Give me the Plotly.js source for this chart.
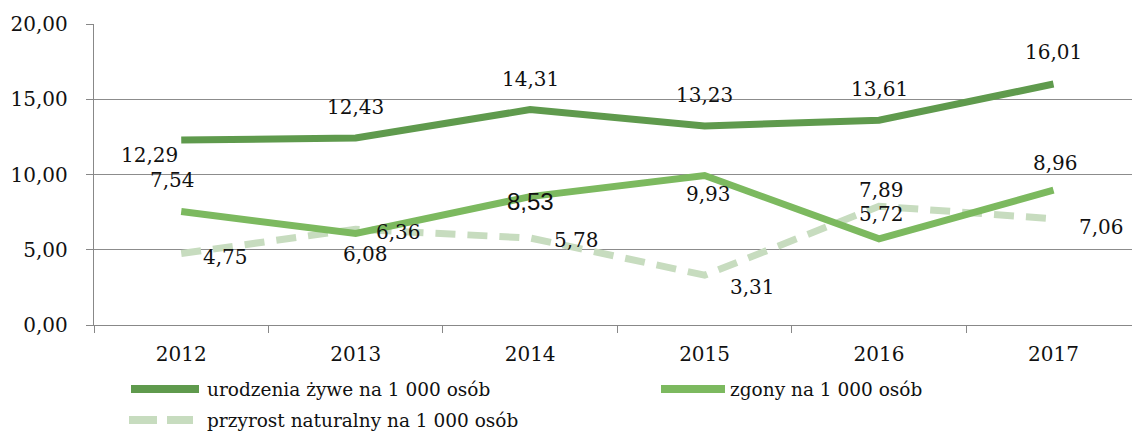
<!DOCTYPE html>
<html>
<head>
<meta charset="utf-8">
<script src="https://cdn.plot.ly/plotly-3.0.1.min.js"></script>
<style>html,body{margin:0;padding:0;background:#fff;}#chart{width:1132px;height:434px;}</style>
</head>
<body>
<div id="chart"></div>
<script>
// ---- data ----
const years = ["2012", "2013", "2014", "2015", "2016", "2017"];
const births = [12.29, 12.43, 14.31, 13.23, 13.61, 16.01];
const deaths = [7.54, 6.08, 8.53, 9.93, 5.72, 8.96];
const increase = [4.75, 6.36, 5.78, 3.31, 7.89, 7.06];
const seriesNames = ["urodzenia żywe na 1 000 osób", "zgony na 1 000 osób", "przyrost naturalny na 1 000 osób"];
const yTicks = [0, 5, 10, 15, 20];

// ---- style ----
const colBirths = "#5f9a4d";
const colDeaths = "#7cb95f";
const colIncrease = "#c7dcbf";
const txtCol = "#111111";
const serif = "DejaVu Serif, serif";
const fmt = v => v.toFixed(2).replace(".", ",");

// label offsets (px) per point: [xshift, yshift]
const offBirths = [[-32, -15], [0, 31], [0, 31], [0, 31], [0, 31], [0, 32]];
const offDeaths = [[-9, 32], [10, -20], [0, -5], [4, -18], [2, 25], [2, 27]];
const offIncrease = [[44, -3], [43, -3], [46, -2], [48, -12], [2, 16], [48, -8]];

const traces = [
  {x: years, y: increase, name: seriesNames[2], mode: "lines", line: {color: colIncrease, width: 7, dash: "20px,12px"}, hoverinfo: "skip"},
  {x: years, y: deaths, name: seriesNames[1], mode: "lines", line: {color: colDeaths, width: 7}, hoverinfo: "skip"},
  {x: years, y: births, name: seriesNames[0], mode: "lines", line: {color: colBirths, width: 7}, hoverinfo: "skip"}
];

const annotations = [];
function addLabels(vals, offs, special) {
  vals.forEach((v, i) => {
    const sp = special && special[i];
    annotations.push({
      x: i, y: v, xref: "x", yref: "y", text: fmt(v), showarrow: false,
      xshift: offs[i][0], yshift: offs[i][1],
      font: sp ? {family: "Liberation Sans, Arial, sans-serif", size: 24, color: txtCol} : {family: serif, size: 20, color: txtCol}
    });
  });
}
addLabels(births, offBirths);
addLabels(deaths, offDeaths, {2: true});
addLabels(increase, offIncrease);

// manual legend (pixel -> paper helpers)
const L = 94, R = 0, T = 24, B = 109, W = 1132, H = 434;
const pw = W - L - R, ph = H - T - B;
const px = p => (p - L) / pw;
const py = p => (H - B - p) / ph;
const shapes = [
  {type: "line", xref: "paper", yref: "paper", x0: px(131), x1: px(199), y0: py(389), y1: py(389), line: {color: colBirths, width: 8}},
  {type: "line", xref: "paper", yref: "paper", x0: px(661), x1: px(725), y0: py(389), y1: py(389), line: {color: colDeaths, width: 8}},
  {type: "line", xref: "paper", yref: "paper", x0: px(129), x1: px(193), y0: py(420), y1: py(420), line: {color: colIncrease, width: 8, dash: "28px,10px"}}
];
const legendPos = [[205, 389], [728, 389], [205, 420]];
seriesNames.forEach((n, i) => {
  annotations.push({xref: "paper", yref: "paper", x: px(legendPos[i][0]), y: py(legendPos[i][1]),
    xanchor: "left", yanchor: "middle", showarrow: false, text: n,
    font: {family: serif, size: 18.5, color: txtCol}});
});

const layout = {
  width: W, height: H,
  margin: {l: L, r: R, t: T, b: B, pad: 0},
  paper_bgcolor: "#ffffff", plot_bgcolor: "#ffffff",
  showlegend: false,
  font: {family: serif, size: 20, color: txtCol},
  xaxis: {
    type: "category", range: [-0.5, 5.45], tickson: "boundaries",
    ticks: "outside", ticklen: 7, tickcolor: "#888", tickwidth: 1,
    showline: true, linecolor: "#888", linewidth: 1.2,
    showgrid: false, zeroline: false,
    tickfont: {family: serif, size: 20, color: txtCol},
    ticklabelstandoff: 11, fixedrange: true
  },
  yaxis: {
    range: [0, 20], tickvals: yTicks, ticktext: yTicks.map(fmt),
    ticks: "outside", ticklen: 7, tickcolor: "#888", tickwidth: 1,
    showline: true, linecolor: "#888", linewidth: 1.2,
    showgrid: true, gridcolor: "#8c8c8c", gridwidth: 1, zeroline: false,
    tickfont: {family: serif, size: 20, color: txtCol},
    ticklabelstandoff: 14, fixedrange: true
  },
  annotations: annotations,
  shapes: shapes
};

Plotly.newPlot("chart", traces, layout, {staticPlot: true, displayModeBar: false});
</script>
</body>
</html>
